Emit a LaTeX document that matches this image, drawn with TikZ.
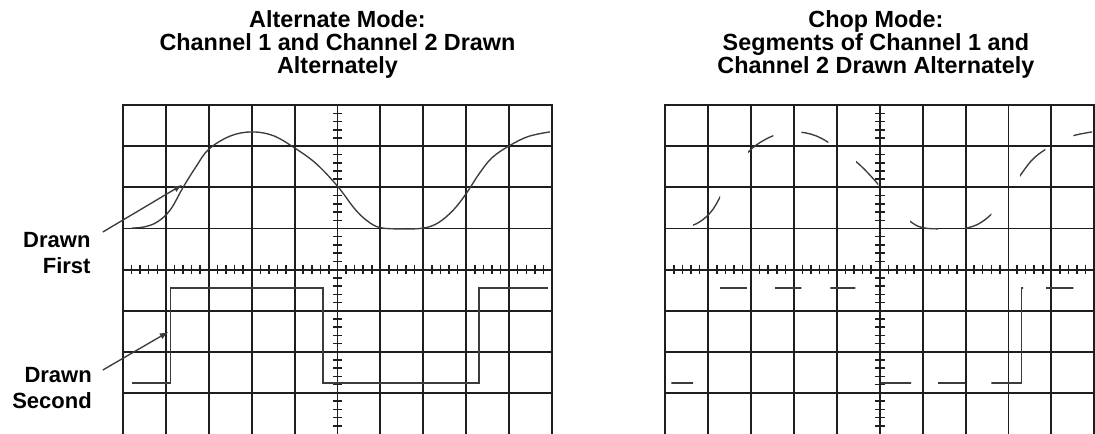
\documentclass[tikz,border=0pt]{standalone}
\usepackage{fontspec}
\setmainfont{Liberation Sans}
\usepackage{tikz}
\definecolor{gridGray}{RGB}{30, 30, 30}
\definecolor{traceGray}{RGB}{60, 60, 60}

% channel 1 (rounded wave) and channel 2 (square wave), one division = one unit
\def\chonewave{plot[smooth, tension=0.6] coordinates {(0.21,5.01) (0.5,5.04) (0.8,5.16) (1.1,5.45) (1.4,6.0) (1.7,6.5) (2.0,6.93) (2.5,7.25) (3.0,7.35) (3.5,7.26) (4.0,6.96) (4.5,6.58) (5.0,6.03) (5.4,5.48) (5.7,5.18) (6.0,5.02) (6.5,4.99) (7.0,5.01) (7.35,5.14) (7.7,5.45) (8.0,5.85) (8.3,6.33) (8.6,6.72) (9.0,7.01) (9.45,7.24) (9.95,7.35)}}
\def\chtwowave{(0.21,1.24) -| (1.1,3.55) -| (4.66,1.24) -| (8.3,3.55) -- (9.9,3.55)}

\begin{document}
\begin{tikzpicture}[x=1cm, y=0.958cm,
    gridline/.style={gridGray, line width=1.3pt, line cap=rect},
    tickline/.style={gridGray, line width=1pt},
    trace/.style={traceGray, line width=0.9pt},
    heading/.style={font=\bfseries\fontsize{15.5}{15.2}\selectfont, align=center, anchor=north, inner sep=0pt},
    sidenote/.style={font=\bfseries\fontsize{14.6}{17.2}\selectfont, align=right, anchor=north east, inner sep=0pt}]
    \useasboundingbox (-2.867,0) rectangle (22.657,10.56);

    % two graticules
    \foreach \ox in {0,12.64} {
      \begin{scope}[xshift=\ox cm]
        \foreach \x in {0,...,10} \draw[gridline] (\x,-0.3) -- (\x,8);
        \foreach \y in {1,...,8} \draw[gridline] (0,\y) -- (10,\y);
        \foreach \t in {0.2,0.4,...,9.9} \draw[tickline] (\t,3.89) -- (\t,4.11);
        \foreach \t in {0.2,0.4,...,7.9} \draw[tickline] (4.89,\t) -- (5.11,\t);
      \end{scope}
    }

    \node[heading] (altTitle) at (5.0,10.31) {Alternate Mode:\\Channel 1 and Channel 2 Drawn\\Alternately};
    \node[heading] (chopTitle) at (17.55,10.31) {Chop Mode:\\Segments of Channel 1 and\\Channel 2 Drawn Alternately};

    % alternate mode
    \draw[trace] \chonewave;
    \draw[trace] \chtwowave;

    \node[sidenote] (first) at (-0.75,4.915) {Drawn\\First};
    \node[sidenote] (second) at (-0.72,1.63) {Drawn\\Second};
    \coordinate (firstTip) at (1.375,6.06);
    \coordinate (secondTip) at (1.05,2.48);
    \draw[trace, -latex] ([xshift=0.28cm]first.north east) -- (firstTip);
    \draw[trace, -latex] ([xshift=0.25cm, yshift=-0.07cm]second.north east) -- (secondTip);

    % chop mode
    \begin{scope}[xshift=12.64cm]
      \begin{scope}
        \clip \foreach \a/\b in {0.65/1.28, 1.93/2.52, 3.17/3.8, 4.45/4.97, 5.71/6.36, 6.99/7.6, 8.27/8.86, 9.51/10} {(\a,0) rectangle (\b,8)};
        \draw[trace] \chonewave;
      \end{scope}
      \begin{scope}
        \clip \foreach \a/\b in {0.14/0.65, 1.28/1.9, 2.56/3.17, 3.85/4.43, 5.03/5.73, 6.36/6.99, 7.6/8.34, 8.88/9.51} {(\a,0) rectangle (\b,8)};
        \draw[trace] (0.1,1.24) -- \chtwowave;
      \end{scope}
    \end{scope}
\end{tikzpicture}
\end{document}
